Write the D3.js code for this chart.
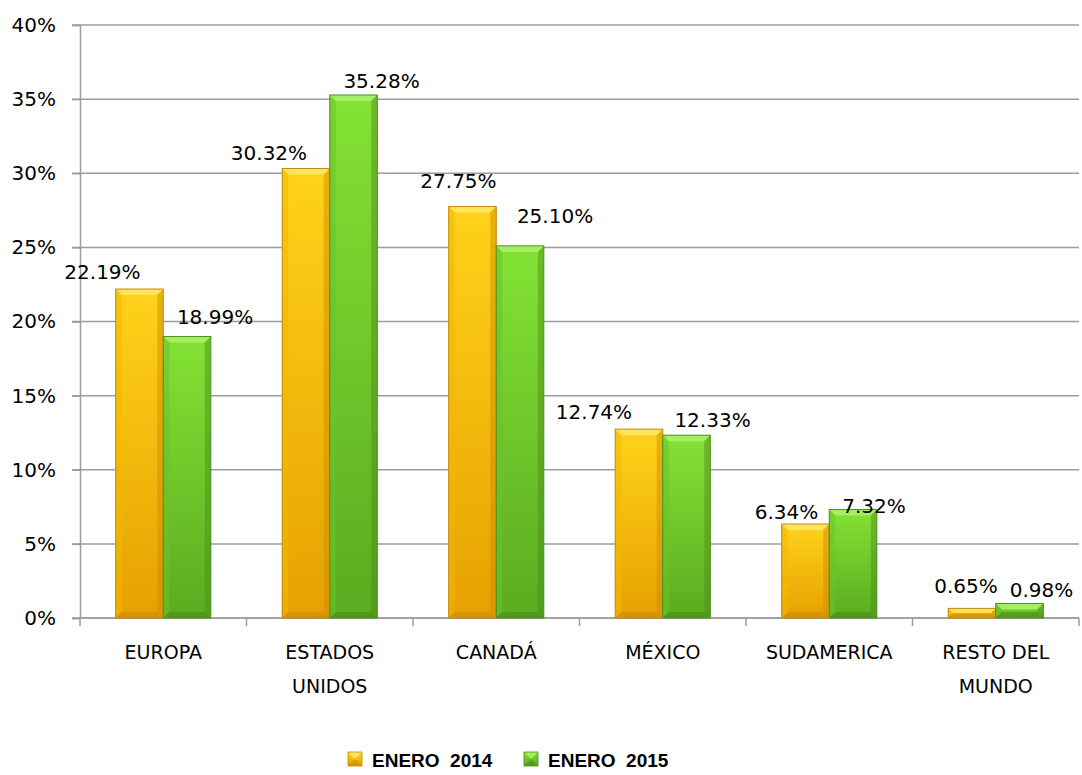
<!DOCTYPE html>
<html>
<head>
<meta charset="utf-8">
<script src="https://cdn.jsdelivr.net/npm/d3@7"></script>
<style>
  body { margin: 0; background: #fff; }
  svg { display: block; }
  text { font-family: "DejaVu Sans", sans-serif; fill: #000; }
</style>
</head>
<body>
<svg width="1082" height="775"></svg>
<script>
// data
var categories = [["EUROPA"], ["ESTADOS", "UNIDOS"], ["CANADÁ"], ["MÉXICO"], ["SUDAMERICA"], ["RESTO DEL", "MUNDO"]];
var seriesNames = ["ENERO  2014", "ENERO  2015"];
var enero2014 = [22.19, 30.32, 27.75, 12.74, 6.34, 0.65];
var enero2015 = [18.99, 35.28, 25.10, 12.33, 7.32, 0.98];
var yTicks = [0, 5, 10, 15, 20, 25, 30, 35, 40];

// label nudges (px) relative to bar centre / bar top, excel puts them where it wants
var nudge2014 = [[-37, -10], [-37, -9], [-14, -19], [-45, -10], [-19, -5], [-6, -15]];
var nudge2015 = [[28, -12], [28, -7], [35, -23], [26, -8], [21, 4], [22, -6]];

var svg = d3.select("svg");
var plotLeft = 80, plotRight = 1079, plotTop = 25, plotBottom = 618;

var x0 = d3.scaleBand()
    .domain(d3.range(categories.length))
    .range([plotLeft, plotRight]);
var x1 = d3.scaleBand()
    .domain([0, 1])
    .range([0, x0.bandwidth()])
    .paddingOuter(0.75);
var y = d3.scaleLinear().domain([0, 40]).range([plotBottom, plotTop]);

var defs = svg.append("defs");
var palettes = [
    { top: "#ffd21a", bottom: "#e6a100", light: "#ffe45c", dark: "#c98a00", side: "#f2b800", stroke: "#c08a10" },
    { top: "#84e234", bottom: "#5aab20", light: "#a4ee62", dark: "#4a8c18", side: "#6cc22a", stroke: "#4f8f1f" }
];
palettes.forEach(function (p, i) {
    var g = defs.append("linearGradient").attr("id", "grad" + i)
        .attr("x1", 0).attr("y1", 0).attr("x2", 0).attr("y2", 1);
    g.append("stop").attr("offset", "0%").attr("stop-color", p.top);
    g.append("stop").attr("offset", "100%").attr("stop-color", p.bottom);
});

// gridlines
svg.append("g")
    .selectAll("line")
    .data(yTicks)
    .enter().append("line")
    .attr("x1", plotLeft - 8)
    .attr("x2", plotRight)
    .attr("y1", function (d) { return y(d); })
    .attr("y2", function (d) { return y(d); })
    .attr("stroke", "#9c9c9c")
    .attr("stroke-width", 1.5);

// y axis
var yAxis = svg.append("g")
    .attr("transform", "translate(" + plotLeft + ",0)")
    .call(d3.axisLeft(y).tickValues(yTicks).tickSize(8).tickPadding(16)
        .tickFormat(function (d) { return d + "%"; }));
yAxis.select(".domain").attr("stroke", "#9c9c9c").attr("stroke-width", 1.5);
yAxis.selectAll(".tick line").attr("stroke", "#9c9c9c").attr("stroke-width", 1.5);
yAxis.selectAll(".tick text")
    .style("font-family", "DejaVu Sans, sans-serif")
    .style("font-size", "20px")
    .attr("fill", "#000");

// x axis line + ticks at category boundaries
var bounds = d3.range(categories.length + 1).map(function (i) {
    return i < categories.length ? x0(i) : x0(i - 1) + x0.bandwidth();
});
svg.append("line")
    .attr("x1", plotLeft).attr("x2", plotRight)
    .attr("y1", plotBottom).attr("y2", plotBottom)
    .attr("stroke", "#9c9c9c").attr("stroke-width", 1.5);
svg.append("g").selectAll("line")
    .data(bounds)
    .enter().append("line")
    .attr("x1", function (d) { return d; })
    .attr("x2", function (d) { return d; })
    .attr("y1", plotBottom)
    .attr("y2", plotBottom + 8)
    .attr("stroke", "#9c9c9c").attr("stroke-width", 1.5);

// category labels
var catLabels = svg.append("g").selectAll("text")
    .data(categories)
    .enter().append("text")
    .attr("text-anchor", "middle")
    .style("font-size", "19px")
    .attr("transform", function (d, i) {
        return "translate(" + (x0(i) + x0.bandwidth() / 2) + "," + 659 + ")";
    });
catLabels.selectAll("tspan")
    .data(function (d) { return d; })
    .enter().append("tspan")
    .attr("x", 0)
    .attr("y", function (d, j) { return j * 34; })
    .text(function (d) { return d; });

// bars with bevel
function drawBar(g, x, w, yTop, p, i) {
    var h = plotBottom - yTop;
    var b = Math.min(6, h / 2);
    g.append("rect")
        .attr("x", x).attr("y", yTop)
        .attr("width", w).attr("height", h)
        .attr("fill", "url(#grad" + i + ")");
    // top bevel
    g.append("polygon")
        .attr("points", [[x, yTop], [x + w, yTop], [x + w - b, yTop + b], [x + b, yTop + b]].join(" "))
        .attr("fill", p.light);
    // left bevel
    g.append("polygon")
        .attr("points", [[x, yTop], [x + b, yTop + b], [x + b, plotBottom - b], [x, plotBottom]].join(" "))
        .attr("fill", p.side).attr("opacity", 0.55);
    // right bevel
    g.append("polygon")
        .attr("points", [[x + w, yTop], [x + w - b, yTop + b], [x + w - b, plotBottom - b], [x + w, plotBottom]].join(" "))
        .attr("fill", p.dark).attr("opacity", 0.45);
    // bottom bevel
    g.append("polygon")
        .attr("points", [[x, plotBottom], [x + b, plotBottom - b], [x + w - b, plotBottom - b], [x + w, plotBottom]].join(" "))
        .attr("fill", p.dark).attr("opacity", 0.6);
    g.append("rect")
        .attr("x", x).attr("y", yTop)
        .attr("width", w).attr("height", h)
        .attr("fill", "none")
        .attr("stroke", p.stroke).attr("stroke-width", 1);
}

var allSeries = [enero2014, enero2015];
var allNudges = [nudge2014, nudge2015];
var barsG = svg.append("g");
allSeries.forEach(function (vals, s) {
    vals.forEach(function (v, i) {
        var g = barsG.append("g");
        drawBar(g, x0(i) + x1(s), x1.bandwidth(), y(v), palettes[s], s);
    });
});

// value labels
allSeries.forEach(function (vals, s) {
    svg.append("g").selectAll("text")
        .data(vals)
        .enter().append("text")
        .attr("text-anchor", "middle")
        .style("font-size", "20px")
        .attr("x", function (d, i) { return x0(i) + x1(s) + x1.bandwidth() / 2 + allNudges[s][i][0]; })
        .attr("y", function (d, i) { return y(d) + allNudges[s][i][1]; })
        .text(function (d) { return d.toFixed(2) + "%"; });
});

// legend
var legend = svg.append("g");
var legendX = [348, 524];
seriesNames.forEach(function (name, s) {
    var row = legend.append("g")
        .attr("transform", "translate(" + legendX[s] + "," + 752 + ")");
    drawLegendSwatch(row, palettes[s], s);
    row.append("text")
        .attr("x", 24)
        .attr("y", 15)
        .style("font-family", "Liberation Sans, Arial, sans-serif")
        .style("font-weight", "bold")
        .style("font-size", "19px")
        .style("white-space", "pre")
        .attr("xml:space", "preserve")
        .text(name);
});

function drawLegendSwatch(g, p, i) {
    var w = 14;
    g.append("rect").attr("width", w).attr("height", w).attr("fill", "url(#grad" + i + ")");
    g.append("polygon").attr("points", [[0, 0], [w, 0], [w / 2, w / 2]].join(" ")).attr("fill", p.light);
    g.append("polygon").attr("points", [[0, w], [w, w], [w / 2, w / 2]].join(" ")).attr("fill", p.dark).attr("opacity", 0.6);
    g.append("rect").attr("width", w).attr("height", w).attr("fill", "none").attr("stroke", p.stroke).attr("stroke-width", 0.8);
}
</script>
</body>
</html>
